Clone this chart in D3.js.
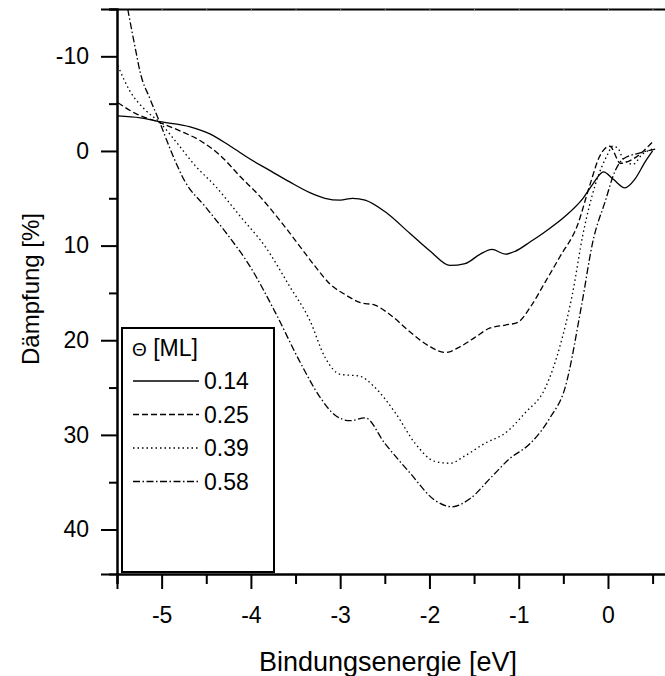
<!DOCTYPE html>
<html>
<head>
<meta charset="utf-8">
<script src="https://cdn.jsdelivr.net/npm/d3@7"></script>
<style>
  body { margin: 0; background: #fff; }
  svg { display: block; font-family: Arial, "Liberation Sans", sans-serif; }
</style>
</head>
<body>
<div id="chart"></div>
<script>
// data: binding energy [eV] and damping [%]
const energy014 = [-5.49,-5.24,-5.02,-4.68,-4.46,-4.23,-4.01,-3.78,-3.56,-3.34,-3.17,-3.0,-2.86,-2.72,-2.5,-2.22,-1.99,-1.77,-1.6,-1.43,-1.3,-1.15,-1.04,-0.87,-0.7,-0.48,-0.28,-0.17,-0.05,0.06,0.19,0.3,0.42,0.5];
const damp014   = [-3.7,-3.5,-3.1,-2.55,-1.8,-0.5,0.85,2.1,3.3,4.4,5.0,5.2,5.0,5.2,6.4,8.7,10.6,12.1,11.9,10.9,10.4,10.9,10.6,9.6,8.5,6.9,5.0,3.5,2.2,3.0,3.9,3.0,1.1,0.0];

const energy025 = [-5.49,-5.3,-5.02,-4.79,-4.57,-4.34,-4.12,-3.9,-3.67,-3.45,-3.28,-3.11,-2.94,-2.78,-2.61,-2.44,-2.22,-1.99,-1.82,-1.66,-1.49,-1.32,-1.15,-1.01,-0.87,-0.7,-0.54,-0.34,-0.2,-0.09,0.02,0.14,0.28,0.51];
const damp025   = [-5.1,-4.0,-3.0,-2.1,-1.1,0.5,2.7,4.8,7.4,10.1,12.2,14.1,15.2,16.0,16.3,17.3,19.1,20.7,21.3,20.7,19.7,18.7,18.4,18.1,16.5,13.8,11.2,7.8,3.5,0.5,-0.5,1.3,0.85,-1.06];

const energy039 = [-5.49,-5.36,-5.18,-5.02,-4.85,-4.62,-4.4,-4.12,-3.84,-3.56,-3.34,-3.17,-3.0,-2.78,-2.61,-2.38,-2.16,-1.94,-1.77,-1.6,-1.38,-1.15,-0.93,-0.7,-0.54,-0.4,-0.28,-0.14,0.0,0.05,0.11,0.17,0.28,0.39,0.5];
const damp039   = [-9.0,-6.4,-4.3,-3.0,-1.1,1.6,3.7,6.9,10.1,14.4,17.9,21.8,23.6,23.8,25.0,27.7,30.9,32.8,33.0,32.2,30.9,29.8,27.7,25.0,20.7,15.2,8.8,3.5,0.3,-0.5,-0.3,0.85,1.4,0.3,-0.2];

const energy058 = [-5.38,-5.29,-5.24,-5.13,-5.02,-4.9,-4.74,-4.51,-4.29,-4.01,-3.73,-3.45,-3.22,-3.06,-2.89,-2.72,-2.5,-2.22,-1.94,-1.75,-1.54,-1.32,-1.1,-0.87,-0.65,-0.48,-0.29,-0.17,-0.03,0.08,0.17,0.36,0.53];
const damp058   = [-15.0,-10.6,-8.3,-5.5,-3.0,-0.1,3.2,5.9,8.5,12.2,17.0,22.3,26.1,27.9,28.5,28.2,30.9,34.0,36.9,37.6,36.7,34.6,32.5,30.9,28.2,25.0,16.0,9.6,5.3,2.1,0.85,0.2,-0.2];

const coverages = ['0.14', '0.25', '0.39', '0.58'];
const xTicks = [-5, -4, -3, -2, -1, 0];
const yTicks = [-10, 0, 10, 20, 30, 40];

const series = [
  {label: coverages[0], e: energy014, d: damp014, dash: null},
  {label: coverages[1], e: energy025, d: damp025, dash: '6,3'},
  {label: coverages[2], e: energy039, d: damp039, dash: '1.5,3'},
  {label: coverages[3], e: energy058, d: damp058, dash: '7,2.5,1.5,2.5'}
];

const W = 665, H = 676;
const mLeft = 117, mRight = 666, mTop = 9, mBottom = 574;

const svg = d3.select('#chart').append('svg')
  .attr('width', W).attr('height', H);

const x = d3.scaleLinear().domain([-5.5, 0.65]).range([mLeft, mRight]);
const y = d3.scaleLinear().domain([-15, 44.7]).range([mTop, mBottom]);

svg.append('clipPath').attr('id', 'clip')
  .append('rect').attr('x', mLeft).attr('y', mTop)
  .attr('width', mRight - mLeft).attr('height', mBottom - mTop);

// curves
const line = d3.line()
  .x(p => x(p[0])).y(p => y(p[1]))
  .curve(d3.curveMonotoneX);

const plot = svg.append('g').attr('clip-path', 'url(#clip)');
series.forEach(s => {
  plot.append('path')
    .datum(s.e.map((v, i) => [v, s.d[i]]))
    .attr('d', line)
    .attr('fill', 'none')
    .attr('stroke', '#000')
    .attr('stroke-width', 1.3)
    .attr('stroke-dasharray', s.dash);
});

// bottom axis
const xMinor = d3.range(-5.5, 0.51, 0.5).filter(v => !xTicks.includes(Math.round(v * 10) / 10));
const gx = svg.append('g').attr('transform', `translate(0,${mBottom})`);
gx.call(d3.axisBottom(x).tickValues(xMinor).tickSize(10).tickFormat(''));
gx.append('g').call(d3.axisBottom(x).tickValues(xTicks).tickSize(15).tickPadding(18)
  .tickFormat(d => String(d)));
gx.selectAll('.domain').attr('stroke-width', 2);
gx.selectAll('.tick line').attr('stroke-width', 2);
gx.selectAll('text').attr('font-size', 23).attr('fill', '#000');

// top border with tiny ticks
const gt = svg.append('g').attr('transform', `translate(0,${mTop})`);
gt.call(d3.axisTop(x).tickValues(d3.range(-5.5, 0.51, 0.5)).tickSize(-2).tickFormat(''));
gt.selectAll('.domain').attr('stroke-width', 2);
gt.selectAll('.tick line').attr('stroke', '#888');

// left axis
const yMinor = d3.range(-15, 45, 5).filter(v => !yTicks.includes(v));
const gy = svg.append('g').attr('transform', `translate(${mLeft},0)`);
gy.call(d3.axisLeft(y).tickValues(yMinor).tickSize(8).tickFormat(''));
gy.append('g').call(d3.axisLeft(y).tickValues(yTicks).tickSize(16).tickPadding(12)
  .tickFormat(d => String(d)));
gy.selectAll('.domain').attr('stroke-width', 2);
gy.selectAll('.tick line').attr('stroke-width', 2);
gy.selectAll('text').attr('font-size', 23).attr('fill', '#000');

// axis titles
svg.append('text')
  .attr('x', 388).attr('y', 671)
  .attr('text-anchor', 'middle').attr('font-size', 27)
  .text('Bindungsenergie [eV]');

svg.append('text')
  .attr('transform', 'translate(39,289) rotate(-90)')
  .attr('text-anchor', 'middle').attr('font-size', 24)
  .text('Dämpfung [%]');

// legend
const lg = svg.append('g');
lg.append('rect')
  .attr('x', 122).attr('y', 328).attr('width', 152).attr('height', 244)
  .attr('fill', '#fff').attr('stroke', '#000').attr('stroke-width', 2);
const title = lg.append('text').attr('x', 132).attr('y', 356).attr('font-size', 23);
title.append('tspan').attr('font-size', 19).text('\u0398');
title.append('tspan').text(' [ML]');
series.forEach((s, i) => {
  const yy = 381 + i * 33.5;
  lg.append('line')
    .attr('x1', 133).attr('x2', 199).attr('y1', yy).attr('y2', yy)
    .attr('stroke', '#000').attr('stroke-width', 1.3)
    .attr('stroke-dasharray', s.dash);
  lg.append('text').attr('x', 204).attr('y', yy + 8).attr('font-size', 23)
    .text(s.label);
});
</script>
</body>
</html>
